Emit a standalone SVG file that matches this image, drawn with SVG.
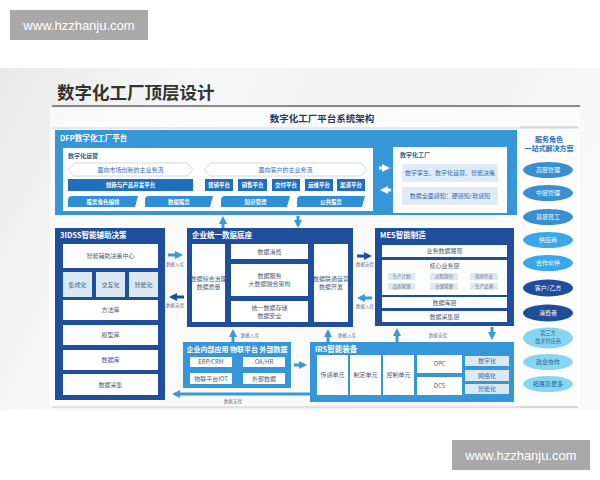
<svg xmlns="http://www.w3.org/2000/svg" width="600" height="480" viewBox="0 0 600 480">
<defs>
<linearGradient id="bg" x1="0" y1="0" x2="1" y2="0.3">
<stop offset="0" stop-color="#e9e9e9"/>
<stop offset="0.3" stop-color="#f7f7f7"/>
<stop offset="0.7" stop-color="#f2f2f2"/>
<stop offset="1" stop-color="#fafafa"/>
</linearGradient>
<marker id="hl" viewBox="0 0 8 8" markerWidth="8" markerHeight="8" refX="5" refY="4" orient="auto" markerUnits="userSpaceOnUse"><path d="M0,0 L8,4 L0,8 Z" fill="#3a9ad8"/></marker>
<marker id="hd" viewBox="0 0 8 8" markerWidth="8" markerHeight="8" refX="5" refY="4" orient="auto" markerUnits="userSpaceOnUse"><path d="M0,0 L8,4 L0,8 Z" fill="#1f4e9a"/></marker>
<marker id="hw" viewBox="0 0 8 8" markerWidth="8" markerHeight="8" refX="5" refY="4" orient="auto" markerUnits="userSpaceOnUse"><path d="M0,0 L8,4 L0,8 Z" fill="#ffffff"/></marker>
</defs>
<style>
text{font-family:"Noto Sans CJK SC","Noto Sans",sans-serif;}
.wm{fill:#a9a9a9}
.wmt{fill:#ffffff;font-size:13px;font-family:"Liberation Sans",Arial,sans-serif;text-anchor:middle}
.dk{fill:#1f4e9a}
.br{fill:#3597d8}
.wb{fill:#ffffff}
.lb{fill:#dbe9f5}
.ttl{fill:#ffffff;font-size:7.5px;font-weight:bold}
.t{fill:#4d5d78;font-size:6px;text-anchor:middle}
.tb{fill:#2f6fb5;font-size:6px;text-anchor:middle}
.bt{fill:#ffffff;font-size:5.5px;text-anchor:middle;font-weight:bold}
.lab{fill:#6a7890;font-size:4.5px;text-anchor:middle}
.al{stroke:#3a9ad8;stroke-width:3;fill:none;marker-end:url(#hl)}
.ad{stroke:#1f4e9a;stroke-width:3;fill:none;marker-end:url(#hd)}
.aw{stroke:#ffffff;stroke-width:3;fill:none;marker-end:url(#hw)}
.el{fill:#3a8fd0}
.el2{fill:#3aa8e8}
.el3{fill:#1e4d9a}
.el4{fill:#86d6f2}
.et{fill:#ffffff;font-size:6px;text-anchor:middle}
.et4{fill:#2a5f98;font-size:6px;text-anchor:middle}
</style>

<!-- watermark top -->
<g id="wm-top"><rect class="wm" x="10" y="10" width="138" height="30"/><text class="wmt" x="79" y="29.5">www.hzzhanju.com</text></g>

<!-- slide background -->
<rect x="0" y="68" width="600" height="342" fill="url(#bg)"/>
<rect x="50" y="108" width="530" height="300" fill="#fdfdfd" opacity="0.7"/>
<text x="57" y="99" font-size="17.5" font-weight="bold" fill="#333333">数字化工厂顶层设计</text>
<line x1="52" y1="106" x2="580" y2="106" stroke="#666666" stroke-width="1.5"/>
<text x="322" y="121.5" font-size="9.5" font-weight="bold" fill="#1f3864" text-anchor="middle">数字化工厂平台系统架构</text>
<line x1="52" y1="128" x2="578" y2="128" stroke="#c9d6e2" stroke-width="1"/>
<line x1="52" y1="407" x2="578" y2="407" stroke="#c8c8c8" stroke-width="1"/>

<!-- DFP platform -->
<g id="dfp">
<rect class="br" x="55" y="130" width="462" height="85"/>
<text class="ttl" x="60" y="141">DFP数字化工厂平台</text>
<rect class="wb" x="63" y="148" width="310" height="63"/>
<text x="68" y="158" font-size="6" font-weight="bold" fill="#2a5f98">数字化运营</text>
<path d="M74,163 L187,163 L193,169.5 L187,176 L74,176 L68,169.5 Z" fill="#ffffff" stroke="#c5ced8" stroke-width="0.8"/>
<text class="tb" x="130.5" y="171.5">面向市场创新的主业务流</text>
<path d="M210,163 L361,163 L367,169.5 L361,176 L210,176 L204,169.5 Z" fill="#ffffff" stroke="#c5ced8" stroke-width="0.8"/>
<text class="tb" x="285.5" y="171.5">面向客户的主业务流</text>
<rect x="68" y="179" width="125" height="12" fill="#1f6fbf"/><text class="bt" x="130.5" y="187">创新与产品开发平台</text>
<rect x="205" y="179" width="28" height="12" fill="#1f6fbf"/><text class="bt" x="219" y="187">营销平台</text>
<rect x="238" y="179" width="29" height="12" fill="#1f6fbf"/><text class="bt" x="252.5" y="187">销售平台</text>
<rect x="272" y="179" width="28" height="12" fill="#1f6fbf"/><text class="bt" x="286" y="187">交付平台</text>
<rect x="305" y="179" width="28" height="12" fill="#1f6fbf"/><text class="bt" x="319" y="187">运维平台</text>
<rect x="337" y="179" width="28" height="12" fill="#1f6fbf"/><text class="bt" x="351" y="187">渠道平台</text>
<path d="M72,196 L138,196 L135,207 L68,207 L68,200 Q68,196 72,196 Z" fill="#2f8fd8"/><text class="bt" x="103" y="204">服务角色编排</text>
<path d="M149,196 L213,196 L210,207 L145,207 L145,200 Q145,196 149,196 Z" fill="#2f8fd8"/><text class="bt" x="179" y="204">数据服务</text>
<path d="M225,196 L290,196 L287,207 L221,207 L221,200 Q221,196 225,196 Z" fill="#2f8fd8"/><text class="bt" x="255.5" y="204">知识管理</text>
<path d="M301,196 L365,196 L362,207 L297,207 L297,200 Q297,196 301,196 Z" fill="#2f8fd8"/><text class="bt" x="331" y="204">公共服务</text>
</g>

<g id="dfactory">
<rect class="wb" x="393" y="147" width="114" height="66"/>
<text x="400" y="157" font-size="6" font-weight="bold" fill="#2a5f98">数字化工厂</text>
<rect x="402" y="164" width="96" height="18" fill="#e1ebf5"/>
<text class="tb" x="450" y="175">数字孪生、数字化运营、智能决策</text>
<rect x="402" y="187" width="96" height="18" fill="#e1ebf5"/>
<text class="tb" x="450" y="198">数据全面感知：硬感知/软感知</text>
</g>

<!-- right column -->
<g id="roles">
<line x1="520" y1="127" x2="578" y2="127" stroke="#c8c8c8" stroke-width="1"/>
<text x="549" y="142" font-size="7" font-weight="bold" fill="#2a6fb8" text-anchor="middle">服务角色</text>
<text x="549" y="151" font-size="7" font-weight="bold" fill="#2a6fb8" text-anchor="middle">一站式解决方案</text>
<ellipse class="el" cx="548" cy="170" rx="25" ry="8"/><text class="et" x="548" y="172">高层管理</text>
<ellipse class="el" cx="548" cy="193" rx="25" ry="8"/><text class="et" x="548" y="195">中层管理</text>
<ellipse class="el" cx="548" cy="217" rx="25" ry="8"/><text class="et" x="548" y="219">基层员工</text>
<ellipse class="el2" cx="548" cy="240" rx="25" ry="8"/><text class="et" x="548" y="242">供应商</text>
<ellipse class="el2" cx="548" cy="263" rx="25" ry="8"/><text class="et" x="548" y="265">合作伙伴</text>
<ellipse class="el3" cx="548" cy="288" rx="25" ry="8.5"/><text class="et" x="548" y="290">客户/乙方</text>
<ellipse class="el3" cx="548" cy="313" rx="25" ry="8.5"/><text class="et" x="548" y="315">消费者</text>
<ellipse class="el4" cx="548" cy="338" rx="25" ry="10.5"/><text class="et4" x="548" y="335" style="font-size:5.2px">第三方</text><text class="et4" x="548" y="342.5" style="font-size:5.2px">技术供应商</text>
<ellipse class="el4" cx="548" cy="362" rx="25" ry="8"/><text class="et4" x="548" y="364">政企协作</text>
<ellipse class="el4" cx="548" cy="384" rx="25" ry="8"/><text class="et4" x="548" y="386">拓展及更多</text>
<line x1="520" y1="407" x2="578" y2="407" stroke="#c8c8c8" stroke-width="1"/>
</g>

<!-- 3IDSS -->
<g id="idss">
<rect class="dk" x="55" y="228" width="110" height="172"/>
<text class="ttl" x="60" y="238">3IDSS智能辅助决策</text>
<rect class="wb" x="63" y="244" width="95" height="24"/><text class="t" x="110.5" y="258">智能辅助决策中心</text>
<rect class="lb" x="63" y="272" width="29" height="25"/><text class="t" x="77.5" y="286.5">集成化</text>
<rect class="lb" x="96" y="272" width="29" height="25"/><text class="t" x="110.5" y="286.5">交互化</text>
<rect class="lb" x="129" y="272" width="29" height="25"/><text class="t" x="143.5" y="286.5">智能化</text>
<rect class="wb" x="63" y="300" width="95" height="20"/><text class="t" x="110.5" y="312">方法库</text>
<rect class="wb" x="63" y="325" width="95" height="20"/><text class="t" x="110.5" y="337">模型库</text>
<rect class="wb" x="63" y="350" width="95" height="20"/><text class="t" x="110.5" y="362">数据库</text>
<rect class="wb" x="63" y="374" width="95" height="21"/><text class="t" x="110.5" y="386.5">数据采集</text>
</g>

<!-- enterprise data base -->
<g id="database">
<rect class="dk" x="187" y="228" width="166" height="99"/>
<text class="ttl" x="192" y="238">企业统一数据底座</text>
<rect class="wb" x="192" y="244" width="33" height="78"/>
<text class="t" x="208.5" y="281">数据综合治理</text><text class="t" x="208.5" y="289">数据质量</text>
<rect class="wb" x="231" y="244" width="77" height="15"/><text class="t" x="269.5" y="253.5">数据消费</text>
<rect class="wb" x="231" y="264" width="77" height="32"/>
<text class="t" x="269.5" y="278">数据服务</text><text class="t" x="269.5" y="286">大数据融合架构</text>
<rect class="wb" x="231" y="301" width="77" height="21"/>
<text class="t" x="269.5" y="310">统一数据存储</text><text class="t" x="269.5" y="318">数据安全</text>
<rect class="wb" x="314" y="244" width="34" height="78"/>
<text class="t" x="331" y="281">数据联通运营</text><text class="t" x="331" y="289">数据开发</text>
</g>

<!-- MES -->
<g id="mes">
<rect class="dk" x="375" y="228" width="139" height="98"/>
<text class="ttl" x="380" y="238">MES智能制造</text>
<rect class="wb" x="382" y="245" width="125" height="12"/><text class="t" x="444.5" y="253">业务数据展现</text>
<rect class="wb" x="382" y="260" width="125" height="35"/><text class="t" x="444.5" y="268">核心业务层</text>
<rect class="lb" x="388" y="273" width="27" height="7"/><text class="lab" x="401.5" y="278">生产计划</text>
<rect class="lb" x="430" y="273" width="28" height="7"/><text class="lab" x="444" y="278">过程管控</text>
<rect class="lb" x="470" y="273" width="28" height="7"/><text class="lab" x="484" y="278">现场作业</text>
<rect class="lb" x="388" y="283" width="27" height="7"/><text class="lab" x="401.5" y="288">品质管理</text>
<rect class="lb" x="430" y="283" width="28" height="7"/><text class="lab" x="444" y="288">仓储管理</text>
<rect class="lb" x="470" y="283" width="28" height="7"/><text class="lab" x="484" y="288">生产追溯</text>
<rect class="wb" x="382" y="297" width="125" height="11"/><text class="t" x="444.5" y="304.5">数据库层</text>
<rect class="wb" x="382" y="311" width="125" height="11"/><text class="t" x="444.5" y="318.5">数据采集层</text>
</g>

<!-- internal apps -->
<g id="apps">
<rect class="br" x="183" y="342" width="108" height="46"/>
<text x="237" y="352" font-size="7" font-weight="bold" fill="#ffffff" text-anchor="middle">企业内部应用 物联平台 外部数据</text>
<rect class="wb" x="190" y="357" width="42" height="10"/><text class="t" x="211" y="364">ERP/CRM</text>
<rect class="wb" x="243" y="357" width="42" height="10"/><text class="t" x="264" y="364">OA/HR</text>
<rect class="wb" x="190" y="373" width="42" height="11"/><text class="t" x="211" y="380.5">物联平台IOT</text>
<rect class="wb" x="243" y="373" width="42" height="11"/><text class="t" x="264" y="380.5">外部数据</text>
</g>

<!-- IRS -->
<g id="irs">
<rect class="br" x="310" y="342" width="204" height="60"/>
<text class="ttl" x="315" y="352">IRS智能装备</text>
<rect class="wb" x="317" y="355" width="31" height="40"/><text class="t" x="332.5" y="377">传感单元</text>
<rect class="wb" x="350" y="355" width="31" height="40"/><text class="t" x="365.5" y="377">制定单元</text>
<rect class="wb" x="383" y="355" width="31" height="40"/><text class="t" x="398.5" y="377">控制单元</text>
<rect class="wb" x="417" y="355" width="45" height="18"/><text class="t" x="439.5" y="366">OPC</text>
<rect class="wb" x="417" y="377" width="45" height="18"/><text class="t" x="439.5" y="388">DCS</text>
<rect class="lb" x="465" y="356" width="44" height="10"/><text class="tb" x="487" y="363">数字化</text>
<rect class="lb" x="465" y="370" width="44" height="11"/><text class="tb" x="487" y="377.5">网络化</text>
<rect class="lb" x="465" y="384" width="44" height="10"/><text class="tb" x="487" y="391">智能化</text>
</g>

<!-- connectors -->
<g id="connectors">
<path class="aw" d="M379,168 L387,168"/>
<path class="aw" d="M391,190 L383,190"/>
<path class="al" d="M223,228 L223,219"/>
<path class="al" d="M298,216 L298,225"/>
<path class="al" d="M168,255 L180,255"/>
<path class="ad" d="M184,297 L172,297"/>
<path class="ad" d="M357,256 L369,256"/>
<path class="al" d="M372,298 L360,298"/>
<path class="al" d="M233,342 L233,332"/>
<path class="al" d="M328,342 L328,332"/>
<path class="al" d="M397,342 L397,331"/>
<path class="al" d="M492,327 L492,337"/>
<path class="al" d="M294,365 L304,365"/>
<path class="al" d="M310,394 L175,394"/>
<text class="lab" x="175" y="266">数据入库</text>
<text class="lab" x="175" y="307">数据支撑</text>
<text class="lab" x="365" y="266">数据支撑</text>
<text class="lab" x="365" y="308">数据入库</text>
<text class="lab" x="250" y="337">数据入库</text>
<text class="lab" x="347" y="337">数据入库</text>
<text class="lab" x="438" y="337">数据支撑</text>
<text class="lab" x="233" y="403">数据支撑</text>
</g>

<!-- watermark bottom -->
<g id="wm-bottom"><rect class="wm" x="452" y="440" width="138" height="30"/><text class="wmt" x="521" y="459.5">www.hzzhanju.com</text></g>
</svg>
